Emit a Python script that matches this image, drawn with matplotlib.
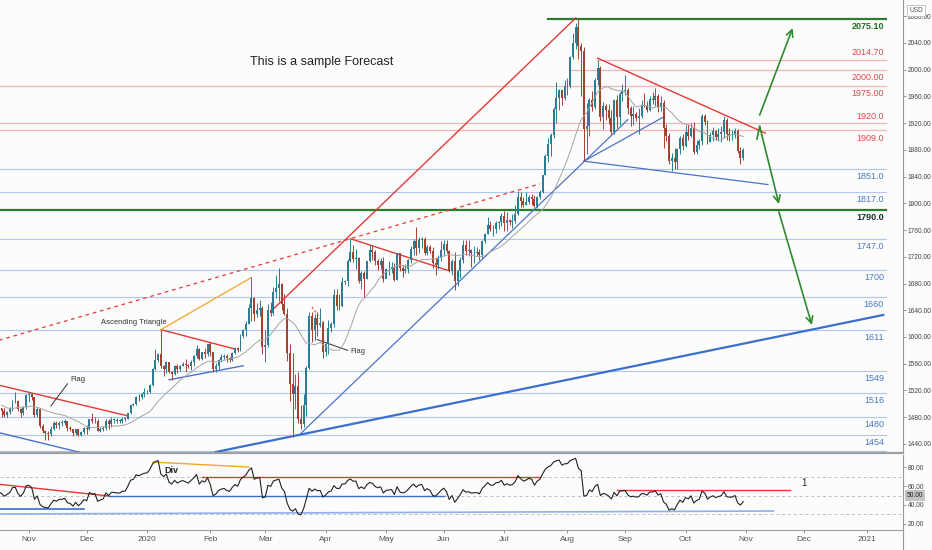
import matplotlib
matplotlib.use("Agg")
import matplotlib.pyplot as plt
import numpy as np
import pandas as pd
from matplotlib.lines import Line2D

NARROW = ['Liberation Sans', 'DejaVu Sans']

# daily XAUUSD closes, warm-up bars feed the MA and RSI only
warmup_close = [1517, 1522, 1532, 1504, 1505, 1497, 1472, 1478, 1499, 1505,
                1505, 1494, 1505, 1506, 1494, 1489, 1497, 1481, 1491, 1494]

c_oct19 = [1490, 1484, 1488, 1492, 1504, 1505, 1493, 1487, 1495, 1513]
h_oct19 = [1494, 1494, 1490, 1495, 1506, 1518, 1506, 1494, 1497, 1515]
l_oct19 = [1480, 1480, 1480, 1485, 1490, 1501, 1490, 1480, 1484, 1492]

c_nov19 = [1514, 1510, 1484, 1492, 1467, 1459, 1456, 1455, 1463, 1471, 1468,
           1472, 1472, 1474, 1464, 1462, 1456, 1462, 1454, 1458, 1464]
h_nov19 = [1517, 1515, 1511, 1496, 1494, 1470, 1461, 1460, 1467, 1474, 1474,
           1474, 1476, 1478, 1475, 1467, 1463, 1463, 1463, 1459, 1466]
l_nov19 = [1503, 1506, 1481, 1480, 1464, 1456, 1446, 1446, 1452, 1461, 1464,
           1463, 1467, 1468, 1460, 1459, 1452, 1454, 1452, 1452, 1455]

c_dec19 = [1462, 1477, 1474, 1475, 1460, 1462, 1464, 1475, 1470, 1476, 1476,
           1475, 1475, 1478, 1478, 1486, 1498, 1500, 1511, 1510, 1514, 1517]
h_dec19 = [1468, 1478, 1486, 1480, 1478, 1466, 1467, 1477, 1477, 1480, 1479,
           1479, 1477, 1481, 1481, 1487, 1499, 1502, 1512, 1514, 1516, 1524]
l_dec19 = [1455, 1461, 1472, 1471, 1459, 1458, 1460, 1461, 1463, 1466, 1472,
           1472, 1471, 1471, 1474, 1478, 1485, 1497, 1498, 1504, 1507, 1510]

c_jan20 = [1518, 1528, 1552, 1566, 1574, 1556, 1552, 1562, 1548, 1545, 1557, 1552,
           1557, 1560, 1558, 1556, 1563, 1571, 1582, 1567, 1577, 1575, 1589]
h_jan20 = [1520, 1530, 1553, 1582, 1576, 1611, 1558, 1564, 1563, 1549, 1558, 1559,
           1558, 1563, 1567, 1559, 1565, 1573, 1588, 1583, 1578, 1584, 1589]
l_jan20 = [1515, 1516, 1527, 1551, 1563, 1553, 1541, 1546, 1546, 1536, 1543, 1546,
           1549, 1556, 1548, 1553, 1551, 1557, 1569, 1565, 1565, 1569, 1572]

c_feb20 = [1577, 1552, 1556, 1566, 1570, 1572, 1568, 1566, 1576, 1584,
           1581, 1602, 1611, 1620, 1643, 1658, 1635, 1641, 1643, 1585]
h_feb20 = [1592, 1577, 1561, 1567, 1575, 1574, 1574, 1570, 1577, 1585,
           1585, 1604, 1612, 1624, 1649, 1689, 1660, 1651, 1656, 1646]
l_feb20 = [1571, 1548, 1547, 1552, 1563, 1567, 1563, 1562, 1564, 1574,
           1578, 1579, 1598, 1602, 1620, 1624, 1624, 1630, 1631, 1575]

c_mar20 = [1588, 1640, 1636, 1668, 1674, 1679, 1649, 1635, 1576, 1530, 1515,
           1526, 1477, 1470, 1498, 1553, 1631, 1611, 1629, 1618, 1621, 1577]
h_mar20 = [1610, 1649, 1652, 1675, 1692, 1703, 1681, 1664, 1644, 1589, 1576,
           1545, 1547, 1498, 1515, 1556, 1637, 1637, 1635, 1638, 1644, 1624]
l_mar20 = [1563, 1585, 1632, 1633, 1658, 1654, 1640, 1633, 1564, 1504, 1451,
           1493, 1472, 1462, 1466, 1482, 1552, 1593, 1596, 1602, 1615, 1568]

c_apr20 = [1590, 1613, 1620, 1663, 1647, 1646, 1682, 1683, 1714, 1727, 1717,
           1718, 1683, 1695, 1686, 1714, 1730, 1727, 1713, 1708, 1713, 1687]
h_apr20 = [1592, 1626, 1623, 1672, 1672, 1665, 1690, 1685, 1716, 1747, 1738,
           1731, 1720, 1699, 1699, 1714, 1738, 1738, 1730, 1717, 1718, 1719]
l_apr20 = [1571, 1575, 1608, 1615, 1640, 1640, 1645, 1679, 1677, 1712, 1712,
           1702, 1681, 1672, 1660, 1687, 1712, 1715, 1707, 1700, 1701, 1682]

c_may20 = [1701, 1702, 1705, 1685, 1725, 1703, 1698, 1702, 1715, 1731, 1744,
           1733, 1745, 1747, 1726, 1735, 1729, 1710, 1708, 1718, 1730]
h_may20 = [1703, 1714, 1712, 1711, 1726, 1723, 1708, 1709, 1717, 1736, 1747,
           1765, 1749, 1749, 1749, 1737, 1737, 1734, 1719, 1723, 1744]
l_may20 = [1689, 1692, 1696, 1683, 1685, 1698, 1690, 1695, 1696, 1711, 1723,
           1723, 1726, 1733, 1722, 1722, 1725, 1703, 1693, 1701, 1713]

c_jun20 = [1739, 1728, 1699, 1714, 1684, 1698, 1715, 1738, 1728, 1730, 1725,
           1726, 1727, 1723, 1743, 1754, 1768, 1761, 1761, 1771, 1772, 1781]
h_jun20 = [1745, 1745, 1730, 1717, 1727, 1700, 1719, 1745, 1745, 1745, 1732,
           1736, 1735, 1732, 1745, 1755, 1779, 1773, 1768, 1774, 1774, 1785]
l_jun20 = [1721, 1725, 1697, 1692, 1670, 1676, 1688, 1711, 1722, 1721, 1705,
           1711, 1721, 1715, 1718, 1740, 1754, 1758, 1751, 1756, 1761, 1766]

c_jul20 = [1770, 1775, 1772, 1774, 1784, 1809, 1803, 1798, 1802, 1809, 1807, 1796,
           1810, 1817, 1842, 1871, 1888, 1902, 1941, 1958, 1970, 1958, 1975]
h_jul20 = [1789, 1787, 1776, 1784, 1797, 1818, 1817, 1809, 1817, 1813, 1814, 1812,
           1811, 1820, 1843, 1874, 1898, 1905, 1944, 1981, 1971, 1970, 1984]
l_jul20 = [1758, 1759, 1768, 1763, 1771, 1783, 1795, 1795, 1797, 1799, 1798, 1795,
           1793, 1807, 1815, 1842, 1861, 1870, 1898, 1920, 1939, 1947, 1954]

c_aug20 = [1976, 2019, 2039, 2063, 2035, 2028, 1911, 1915, 1954, 1944, 1984,
           2002, 1929, 1946, 1940, 1928, 1907, 1954, 1929, 1964, 1968]
h_aug20 = [1987, 2020, 2055, 2069, 2075, 2040, 2034, 1950, 1958, 1968, 1988,
           2015, 2006, 1951, 1949, 1948, 1939, 1956, 1962, 1967, 1979]
l_aug20 = [1962, 1973, 2016, 2030, 2016, 1960, 1863, 1874, 1900, 1938, 1941,
           1977, 1923, 1911, 1924, 1918, 1903, 1904, 1913, 1917, 1953]

c_sep20 = [1970, 1943, 1930, 1934, 1928, 1931, 1947, 1946, 1940, 1956, 1955,
           1961, 1944, 1950, 1912, 1900, 1863, 1868, 1861, 1881, 1898, 1886]
h_sep20 = [1992, 1972, 1945, 1945, 1937, 1942, 1955, 1965, 1953, 1960, 1966,
           1973, 1963, 1960, 1954, 1919, 1905, 1875, 1882, 1883, 1900, 1903]
l_sep20 = [1962, 1934, 1916, 1917, 1923, 1903, 1927, 1944, 1936, 1938, 1949,
           1946, 1936, 1938, 1882, 1893, 1859, 1849, 1851, 1851, 1873, 1880]

c_oct20 = [1906, 1900, 1913, 1877, 1887, 1893, 1930, 1922, 1892, 1902, 1908,
           1899, 1904, 1907, 1924, 1904, 1902, 1902, 1908, 1878, 1868, 1879]
h_oct20 = [1917, 1918, 1920, 1921, 1894, 1896, 1933, 1933, 1925, 1906, 1914,
           1910, 1912, 1916, 1931, 1928, 1912, 1910, 1912, 1911, 1884, 1882]
l_oct20 = [1884, 1894, 1899, 1873, 1873, 1881, 1887, 1917, 1888, 1891, 1893,
           1894, 1893, 1892, 1897, 1895, 1893, 1894, 1897, 1875, 1859, 1864]

# horizontal levels: (price, label, kind, label above line?, start as fraction of pane)
levels = [
    (2075.10, '2075.10', 'green', False, 0.607),
    (2014.70, '2014.70', 'pink', True, 0.661),
    (2000.00, '2000.00', 'pink', False, 0.631),
    (1975.00, '1975.00', 'pink', False, 0.0),
    (1920.0, '1920.0', 'pink', True, 0.0),
    (1909.0, '1909.0', 'pink', False, 0.0),
    (1851.0, '1851.0', 'blue', False, 0.0),
    (1817.0, '1817.0', 'blue', False, 0.0),
    (1790.0, '1790.0', 'green2', False, 0.0),
    (1747.0, '1747.0', 'blue', False, 0.0),
    (1700, '1700', 'blue', False, 0.0),
    (1660, '1660', 'blue', False, 0.0),
    (1611, '1611', 'blue', False, 0.0),
    (1549, '1549', 'blue', False, 0.0),
    (1516, '1516', 'blue', False, 0.0),
    (1480, '1480', 'blue', False, 0.0),
    (1454, '1454', 'blue', False, 0.0),
    (1430, '1430', 'blue', False, 0.0),
]

# drawn trend lines: (date1, price1, date2, price2, colour, width, style)
trend_lines = [
    ('2020-03-05', 1642, '2020-08-06', 2077, '#e53935', 1.0, '-'),
    ('2019-10-17', 1595, '2020-07-20', 1829, '#e53935', 0.9, (0, (3, 3))),
    ('2020-02-05', 1428, '2021-01-11', 1633, '#3a6fd0', 1.6, '-'),
    ('2020-03-19', 1456, '2020-09-02', 1925, '#4a72c8', 0.9, '-'),
    ('2020-08-11', 1863, '2020-09-21', 1929, '#4a72c8', 0.9, '-'),
    ('2020-08-11', 1863, '2020-11-12', 1828, '#4a72c8', 0.9, '-'),
    ('2020-08-18', 2017, '2020-11-11', 1905, '#e53935', 1.0, '-'),
    ('2019-10-17', 1528, '2019-12-23', 1482, '#e53935', 1.0, '-'),
    ('2019-10-17', 1457, '2019-12-03', 1424, '#4a72c8', 1.0, '-'),
    ('2020-01-08', 1611, '2020-02-14', 1582, '#e53935', 1.0, '-'),
    ('2020-01-08', 1611, '2020-02-24', 1689, '#f5a623', 0.9, '-'),
    ('2020-01-13', 1536, '2020-02-19', 1557, '#4a72c8', 1.0, '-'),
    ('2020-04-14', 1747, '2020-06-03', 1699, '#e53935', 1.0, '-'),
    ('2020-03-25', 1645, '2020-03-31', 1622, '#e53935', 0.8, (0, (2, 2))),
    ('2019-11-21', 1530, '2019-11-13', 1497, '#333333', 0.7, '-'),
    ('2020-03-27', 1596, '2020-04-13', 1580, '#333333', 0.7, '-'),
]

# forecast arrows: (date from, price from, date to, price to)
arrows = [
    ('2020-11-09', 1932, '2020-11-25', 2062),
    ('2020-11-09', 1915, '2020-11-18', 1799),
    ('2020-11-18', 1787, '2020-12-04', 1618),
]

# RSI pane lines: (date1, rsi1, date2, rsi2, colour, width)
rsi_lines = [
    ('2019-10-17', 62, '2019-12-12', 49.5, '#e53935', 1.0),
    ('2019-10-17', 35.6, '2019-11-29', 35.6, '#3a6fd0', 1.2),
    ('2020-01-03', 85.6, '2020-02-21', 80.3, '#f5a623', 1.0),
    ('2020-01-29', 69.7, '2020-07-20', 69.7, '#e53935', 1.0),
    ('2019-12-12', 49.5, '2020-06-01', 49.5, '#3a6fd0', 1.0),
    ('2019-10-17', 30.3, '2020-11-16', 33.5, '#8fb0e8', 1.2),
    ('2020-08-27', 55.9, '2020-11-24', 55.9, '#e53935', 1.0),
]

month_labels = ['Nov', 'Dec', '2020', 'Feb', 'Mar', 'Apr', 'May', 'Jun', 'Jul',
                'Aug', 'Sep', 'Oct', 'Nov', 'Dec', '2021']
month_starts = pd.date_range('2019-11-01', '2021-01-01', freq='MS')

closes = warmup_close + c_oct19 + c_nov19 + c_dec19 + c_jan20 + c_feb20 + c_mar20 + \
    c_apr20 + c_may20 + c_jun20 + c_jul20 + c_aug20 + c_sep20 + c_oct20
highs = h_oct19 + h_nov19 + h_dec19 + h_jan20 + h_feb20 + h_mar20 + h_apr20 + \
    h_may20 + h_jun20 + h_jul20 + h_aug20 + h_sep20 + h_oct20
lows = l_oct19 + l_nov19 + l_dec19 + l_jan20 + l_feb20 + l_mar20 + l_apr20 + \
    l_may20 + l_jun20 + l_jul20 + l_aug20 + l_sep20 + l_oct20

axis_dates = pd.bdate_range('2019-09-20', '2021-02-26')


def xp(d):
    return axis_dates.get_loc(pd.Timestamp(d))


close_s = pd.Series(closes, dtype=float)
ma = close_s.rolling(20).mean()
delta = close_s.diff()
gain = delta.clip(lower=0).ewm(alpha=1 / 14, adjust=False).mean()
loss = (-delta.clip(upper=0)).ewm(alpha=1 / 14, adjust=False).mean()
rsi = 100 - 100 / (1 + gain / loss)

nw = len(warmup_close)
xs = np.arange(len(closes))
opens = np.array(closes[nw - 1:-1], dtype=float)
cl = np.array(closes[nw:], dtype=float)
hi = np.array(highs, dtype=float)
lo = np.array(lows, dtype=float)
cx = xs[nw:]

UP = '#2a7d94'
DOWN = '#a8402f'
BG = '#fcfcfc'

fig = plt.figure(figsize=(9.32, 5.5), dpi=100, facecolor=BG)
ax = fig.add_axes([0, 1 - 453 / 550, 903 / 932, 453 / 550], facecolor=BG)
ax2 = fig.add_axes([0, 1 - 530 / 550, 903 / 932, 75 / 550], facecolor=BG, sharex=ax)

x0 = xp('2019-10-18') - 0.55
ax.set_xlim(x0, x0 + 903 / 2.747)
ax.set_ylim(1426.5, 2104)
ax2.set_ylim(13.3, 93.1)

# price levels
colours = {'blue': ('#b3c5ec', '#4a78c2', 'normal', 0.8),
           'pink': ('#f5b5b8', '#e0474c', 'normal', 0.9),
           'green': ('#2a7d2a', '#1f6e1f', 'bold', 1.6),
           'green2': ('#2a7d2a', '#1f2f1f', 'bold', 1.6)}
ytr = ax.get_yaxis_transform()
for price, label, kind, above, start in levels:
    lc, tc, fw, lw = colours[kind]
    ax.axhline(price, xmin=start, xmax=886 / 903, color=lc, lw=lw, zorder=1)
    ax.annotate(label, xy=(884 / 903, price), xycoords=ytr,
                xytext=(0, 5 if above else -5.5), textcoords='offset points',
                ha='right', va='center', fontsize=6.5, color=tc, fontweight=fw,
                family=NARROW, annotation_clip=False, clip_on=True)

for d1, p1, d2, p2, c, lw, ls in trend_lines:
    ax.plot([xp(d1), xp(d2)], [p1, p2], color=c, lw=lw, ls=ls, zorder=2)

# candles
up = cl >= opens
col = np.where(up, UP, DOWN)
ax.vlines(cx, lo, hi, colors=col, lw=0.7, zorder=3)
body = np.where(np.abs(cl - opens) < 0.8, 0.8, cl - opens)
ax.bar(cx, body, bottom=opens, width=0.72, color=col, zorder=4, linewidth=0)
ax.plot(xs[nw:], ma[nw:], color='#a4a4a4', lw=0.7, zorder=5)

for d1, p1, d2, p2 in arrows:
    ax.annotate('', xy=(xp(d2), p2), xytext=(xp(d1), p1),
                arrowprops=dict(arrowstyle='->', color='#2e8b2e', lw=1.2,
                                mutation_scale=12, shrinkA=0, shrinkB=0))
ax.plot([xp('2020-11-06'), xp('2020-11-09')], [1896, 1915], color='#2e8b2e', lw=1.2)

ax.text(322 / 903, 1 - 62 / 453, 'This is a sample Forecast', transform=ax.transAxes,
        ha='center', va='center', fontsize=9, color='#222222', family=NARROW)
ax.text(xp('2019-12-25'), 1621, 'Ascending Triangle', ha='center', va='center',
        fontsize=5.5, color='#333333', family=NARROW)
ax.text(xp('2019-11-22'), 1537, 'Flag', ha='left', va='center', fontsize=5.5,
        color='#333333', family=NARROW)
ax.text(xp('2020-04-14'), 1578, 'Flag', ha='left', va='center', fontsize=5.5,
        color='#333333', family=NARROW)

# RSI pane
for lvl in (30, 50, 70):
    ax2.axhline(lvl, color='#bdbdbd', lw=0.7, ls=(0, (3, 3)), zorder=1)
for d1, r1, d2, r2, c, lw in rsi_lines:
    ax2.plot([xp(d1), xp(d2)], [r1, r2], color=c, lw=lw, zorder=2)
ax2.plot(xs, rsi, color='#222222', lw=0.8, zorder=3)
ax2.text(xp('2020-01-14'), 77, 'Div', ha='center', va='center', fontsize=6.5,
         fontweight='bold', color='#222222', family=NARROW)
ax2.text(xp('2020-11-30'), 63, '1', ha='left', va='center', fontsize=7,
         color='#222222', family=NARROW)
ax2.annotate('50.00', xy=(1.004, 50), xycoords=ax2.get_yaxis_transform(),
             ha='left', va='center', fontsize=4.8, color='#222222', family=NARROW,
             bbox=dict(boxstyle='square,pad=0.3', fc='#c4c4c4', ec='none'),
             annotation_clip=False)

# axes styling
for a in (ax, ax2):
    a.yaxis.tick_right()
    for s in ('top', 'left'):
        a.spines[s].set_visible(False)
    a.spines['right'].set_color('#9a9a9a')
    a.spines['right'].set_linewidth(0.8)
    a.tick_params(axis='y', length=2, width=0.6, color='#888888', labelsize=4.8,
                  labelcolor='#444444', pad=1.2)

ax.spines['bottom'].set_color('#a0a0a0')
ax.spines['bottom'].set_linewidth(1.6)
ax2.spines['bottom'].set_color('#a0a0a0')
ax2.spines['bottom'].set_linewidth(0.8)
ax.set_yticks(np.arange(1440, 2081, 40))
ax.set_yticklabels([f'{v:.2f}' for v in np.arange(1440, 2081, 40)], family=NARROW)
ax2.set_yticks([20, 40, 60, 80])
ax2.set_yticklabels(['20.00', '40.00', '60.00', '80.00'], family=NARROW)
ax.tick_params(axis='x', bottom=False, labelbottom=False)

ax2.set_xticks([xp(axis_dates[axis_dates >= m][0]) for m in month_starts])
ax2.set_xticklabels(month_labels, family=NARROW)
ax2.tick_params(axis='x', length=2.5, width=0.6, color='#888888', labelsize=6,
                labelcolor='#555555', pad=2)

fig.add_artist(Line2D([903 / 932, 903 / 932], [0, 20 / 550], color='#9a9a9a', lw=0.8))
fig.text(916 / 932, 1 - 10 / 550, 'USD', ha='center', va='center', fontsize=4.8,
         color='#555555', family=NARROW,
         bbox=dict(boxstyle='square,pad=0.3', fc='white', ec='#bdbdbd', lw=0.6))

fig.savefig('out.png', dpi=100, facecolor=BG)
